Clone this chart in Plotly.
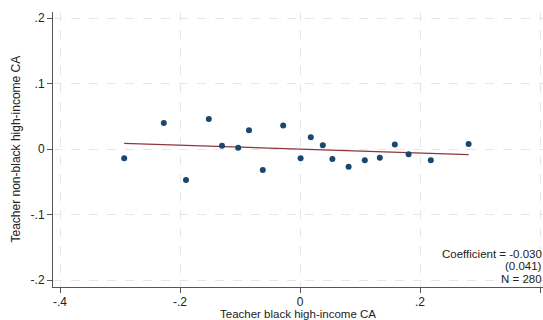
import numpy as np
import plotly.graph_objects as go

# Binned scatter data
x_vals = [-0.293, -0.227, -0.190, -0.152, -0.130, -0.103, -0.085, -0.062, -0.028, 0.001,
          0.018, 0.038, 0.054, 0.081, 0.108, 0.133, 0.158, 0.181, 0.218, 0.281]
y_vals = [-0.014, 0.040, -0.047, 0.046, 0.005, 0.002, 0.029, -0.032, 0.036, -0.014,
          0.018, 0.006, -0.015, -0.027, -0.017, -0.013, 0.007, -0.008, -0.017, 0.008]

coef = -0.030
intercept = 0.0
se = 0.041
n_obs = 280

x_ticks = [-0.4, -0.2, 0.0, 0.2, 0.4]
x_ticktext = ["-.4", "-.2", "0", ".2", ".4"]
y_ticks = [-0.2, -0.1, 0.0, 0.1, 0.2]
y_ticktext = ["-.2", "-.1", "0", ".1", ".2"]

fit_x = np.array([min(x_vals), max(x_vals)])
fit_y = intercept + coef * fit_x

fig = go.Figure()
fig.add_trace(go.Scatter(x=fit_x, y=fit_y, mode="lines",
                         line=dict(color="#90353b", width=1.3), showlegend=False))
fig.add_trace(go.Scatter(x=x_vals, y=y_vals, mode="markers",
                         marker=dict(color="#1a476f", size=6), showlegend=False))

font = "Liberation Sans, Arial, sans-serif"
axis_common = dict(showline=True, linecolor="#555555", linewidth=1,
                   ticks="outside", ticklen=5, tickcolor="#555555",
                   showgrid=True, gridcolor="#e6e6e6", griddash="dash", gridwidth=1,
                   zeroline=False, tickfont=dict(family=font, size=12, color="#222"))

fig.update_layout(
    width=543, height=320,
    margin=dict(l=53, r=0, t=12, b=33),
    paper_bgcolor="white", plot_bgcolor="white",
    xaxis=dict(range=[-0.41167, 0.405], tickvals=x_ticks, ticktext=x_ticktext,
               ticklabelstandoff=-1, **axis_common),
    yaxis=dict(range=[-0.2107, 0.2096], tickvals=y_ticks, ticktext=y_ticktext, **axis_common),
    font=dict(family=font, size=12, color="#222"),
)

# Axis titles
fig.add_annotation(text="Teacher non-black high-income CA", xref="paper", yref="paper",
                   x=-53/490 + 15/490, y=0.5, xanchor="center", yanchor="middle",
                   textangle=-90, showarrow=False, font=dict(size=12))
fig.add_annotation(text="Teacher black high-income CA", xref="paper", yref="paper",
                   x=0.5, y=-26.5/275, xanchor="center", yanchor="middle",
                   showarrow=False, borderpad=0, font=dict(size=11.5))

# Coefficient box
lines = [f"Coefficient = {coef:.3f}", f"({se:.3f})", f"N = {n_obs}"]
ys = [-0.1598, -0.1789, -0.1980]
for t, yy in zip(lines, ys):
    fig.add_annotation(text=t, xref="paper", yref="y", x=0.999, y=yy,
                       xanchor="right", yanchor="middle", showarrow=False,
                       borderpad=0, font=dict(size=11.5))

fig.write_html("out.html")
